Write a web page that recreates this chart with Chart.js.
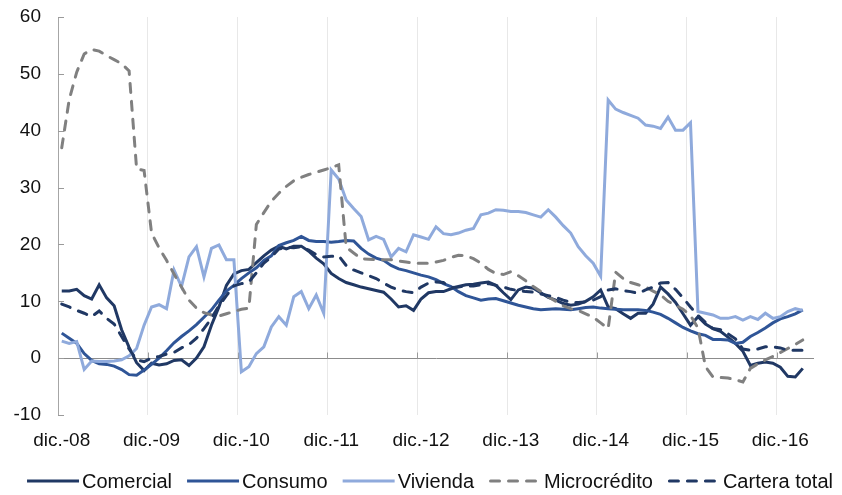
<!DOCTYPE html>
<html>
<head>
<meta charset="utf-8">
<script src="https://cdn.jsdelivr.net/npm/chart.js@4.4.1/dist/chart.umd.min.js"></script>
<style>html,body{margin:0;padding:0;background:#fff}</style>
</head>
<body>
<canvas id="chart" width="842" height="495"></canvas>
<script>
// monthly categories: dic.-08 ... abr.-17 (last slot empty, as in the source)
const MONTHS=['ene','feb','mar','abr','may','jun','jul','ago','sep','oct','nov','dic'];
const FIRST_MONTH=11, FIRST_YEAR=8, N_CATS=101;
const Y_TICKS=[-10,0,10,20,30,40,50,60];
const SERIES_NAMES=['Comercial','Consumo','Vivienda','Microcrédito','Cartera total'];

const comercial=[11.8,11.8,12.1,11.0,10.4,12.9,10.6,9.2,5.0,1.9,
 -0.8,-2.2,-0.9,-1.2,-1.0,-0.4,-0.3,-1.3,0.0,2.0,
 5.8,9.0,12.8,14.8,15.4,15.6,16.8,18.0,19.0,19.7,
 19.2,19.7,19.7,18.8,17.6,16.6,14.9,14.0,13.3,12.9,
 12.5,12.2,11.9,11.6,10.4,9.0,9.2,8.4,10.4,11.5,
 11.7,11.7,12.2,12.6,12.9,13.0,13.2,13.4,12.8,11.5,
 10.3,12.0,12.5,12.3,11.5,10.7,10.2,9.6,9.3,9.5,
 10.0,10.8,12.0,9.0,8.7,7.8,7.0,7.9,7.9,9.5,
 12.5,11.3,9.8,7.8,5.8,7.3,6.0,5.2,4.7,3.7,
 2.6,1.2,-1.3,-0.9,-0.7,-0.9,-1.6,-3.2,-3.3,-1.8];
const consumo=[4.4,3.5,2.6,0.8,-0.4,-1.0,-1.1,-1.4,-2.0,-2.9,
 -3.0,-2.1,-1.1,0.0,1.3,2.7,3.8,4.8,5.9,7.2,
 8.5,10.2,11.8,12.8,14.0,15.0,15.9,17.2,18.0,19.8,
 20.3,20.7,21.4,20.7,20.5,20.5,20.4,20.5,20.7,20.6,
 19.3,18.3,17.6,17.2,16.3,15.7,15.4,15.0,14.6,14.3,
 13.8,13.1,12.6,11.7,11.0,10.6,10.2,10.4,10.5,10.1,
 9.7,9.3,9.0,8.7,8.5,8.6,8.7,8.6,8.5,8.7,
 8.9,9.0,8.8,8.7,8.6,8.5,8.5,8.5,8.4,8.1,
 7.7,7.0,6.2,5.4,4.8,4.3,4.0,3.3,3.3,3.2,
 2.6,2.8,3.8,4.5,5.3,6.2,6.9,7.3,7.8,8.5];
const vivienda=[3.0,2.6,2.9,-2.0,-0.5,-0.6,-0.6,-0.5,-0.3,0.4,
 1.7,5.8,9.0,9.4,8.7,15.5,12.6,17.8,19.6,14.3,
 19.3,19.9,17.3,17.3,-2.4,-1.5,0.8,2.0,5.5,7.3,
 5.8,10.8,11.7,8.7,11.1,7.9,33.1,31.5,27.8,26.3,
 24.9,20.8,21.4,20.9,17.8,19.3,18.7,21.7,21.3,20.9,
 23.1,21.9,21.7,22.0,22.5,22.8,25.2,25.5,26.1,26.0,
 25.8,25.8,25.6,25.2,24.8,26.1,24.8,23.3,22.0,19.6,
 18.0,16.7,14.4,45.4,43.8,43.2,42.7,42.2,41.0,40.8,
 40.4,42.4,40.1,40.1,41.4,8.2,7.9,7.6,7.0,7.0,
 7.3,6.7,7.3,6.8,7.9,7.0,7.3,8.2,8.7,8.4];
const microcredito=[37,45.5,50.3,53.5,54.3,54.0,53.2,52.5,51.8,50.5,
 33.3,33.0,22.0,19.4,17.2,14.8,12.5,10.2,8.8,8.0,
 7.6,7.4,7.8,8.2,8.6,8.8,23.5,25.6,27.6,29.0,
 30.2,31.2,31.8,32.3,32.7,33.1,33.5,34.0,19.5,18.5,
 17.5,17.4,17.3,17.3,17.3,17.1,16.9,16.7,16.7,16.7,
 16.9,17.2,17.7,18.1,18.0,17.5,16.7,15.6,14.9,14.7,
 15.2,14.5,13.6,12.6,11.7,10.8,10.0,9.2,8.7,8.4,
 7.8,7.2,6.2,5.2,15.1,14.0,13.3,12.9,12.5,11.8,
 11.1,10.0,9.3,8.6,7.5,5.3,-1.5,-3.3,-3.4,-3.5,
 -3.8,-4.2,-1.8,-1.0,-0.3,0.3,1.0,1.7,2.4,3.2];
const carteraTotal=[9.5,9.0,8.4,7.9,7.3,8.3,7.0,6.0,3.8,1.6,
 -0.3,-0.6,0.0,0.3,0.7,1.0,1.8,2.4,3.5,5.2,
 7.0,9.2,11.0,12.7,13.1,13.4,15.0,16.7,17.8,19.2,
 19.5,19.4,19.6,19.0,18.2,17.8,17.9,18.0,16.3,15.5,
 15.0,14.5,14.0,13.2,12.5,12.0,11.7,11.5,12.5,13.2,
 13.4,13.3,12.4,12.5,12.7,12.7,12.9,13.1,12.8,12.5,
 12.1,11.9,11.7,11.6,11.3,11.0,10.7,10.2,9.8,9.8,
 9.9,10.2,10.8,12.0,12.2,11.9,11.7,11.4,12.0,12.5,
 13.2,13.3,12.1,10.6,9.0,7.5,6.3,5.2,5.0,4.3,
 3.4,1.6,1.4,1.6,2.0,2.0,1.8,1.4,1.4,1.4];

const labels=[];
for(let k=0;k<N_CATS;k++){const m=(FIRST_MONTH+k)%12, y=FIRST_YEAR+Math.floor((FIRST_MONTH+k)/12);labels.push(MONTHS[m]+'.-'+String(y).padStart(2,'0'));}
const isDic=i=>labels[i]&&labels[i].startsWith('dic');

const FONT='"Liberation Sans", Arial, sans-serif';
const colors=['#203864','#2F5597','#8FAADC','#808080','#203864'];
const dashes=[[],[],[],[9,9],[9,9]];
const values=[comercial,consumo,vivienda,microcredito,carteraTotal];

// small inside tick marks on the value axis and on the zero line
const tickMarks={id:'tickMarks',beforeDatasetsDraw(chart){
  const {ctx,chartArea:a,scales:{x,y}}=chart;
  ctx.save();ctx.strokeStyle='#9A9A9A';ctx.lineWidth=1;ctx.beginPath();
  Y_TICKS.forEach(v=>{const py=Math.round(y.getPixelForValue(v))+0.5;ctx.moveTo(a.left,py);ctx.lineTo(a.left+6,py);});
  const y0=Math.round(y.getPixelForValue(0))+0.5;
  labels.forEach((l,i)=>{if(i>0&&isDic(i)){const px=Math.round(x.getPixelForValue(i-0.5))+0.5;ctx.moveTo(px,y0);ctx.lineTo(px,y0-6);}});
  ctx.stroke();ctx.restore();
}};

// legend row drawn by hand: long line sample, tight gap, label
const legendRow={id:'legendRow',afterDraw(chart){
  const ctx=chart.ctx, LINE=52, GAP=3, SEP=15, Y=481, CENTER=430;
  ctx.save();ctx.font='20px '+FONT;ctx.textBaseline='middle';
  const ds=chart.data.datasets;
  const w=ds.map(d=>ctx.measureText(d.label).width);
  let x=CENTER-(w.reduce((s,v)=>s+v+LINE+GAP,0)+SEP*(ds.length-1))/2;
  ds.forEach((d,i)=>{
    ctx.beginPath();ctx.strokeStyle=d.borderColor;ctx.lineWidth=3;
    ctx.setLineDash(d.borderDash);ctx.lineCap=d.borderCapStyle;
    ctx.moveTo(x+(d.borderDash.length?1.5:0),Y);ctx.lineTo(x+LINE,Y);ctx.stroke();
    ctx.setLineDash([]);ctx.fillStyle='#111';ctx.fillText(d.label,x+LINE+GAP,Y+1);
    x+=LINE+GAP+w[i]+SEP;
  });
  ctx.restore();
}};

new Chart(document.getElementById('chart'),{
  type:'line',
  data:{labels,datasets:SERIES_NAMES.map((n,i)=>({
    label:n,data:values[i],borderColor:colors[i],backgroundColor:colors[i],
    borderWidth:3,borderDash:dashes[i],borderCapStyle:dashes[i].length?'round':'butt',
    pointRadius:0,tension:0,fill:false,order:SERIES_NAMES.length-i}))},
  options:{
    responsive:false,animation:false,events:[],
    layout:{padding:{top:17,right:28,left:0,bottom:42}},
    scales:{
      x:{type:'category',offset:true,
        grid:{offset:true,drawTicks:false,color:c=>isDic(c.index)?'#E8E8E8':'rgba(0,0,0,0)'},
        border:{display:false},
        ticks:{autoSkip:false,maxRotation:0,padding:14,color:'#111',font:{family:FONT,size:19},
          callback:(v,i)=>isDic(i)?labels[i]:''},
        afterFit:s=>{s.height=38;s.paddingLeft=0;s.paddingRight=0;}},
      y:{min:-10,max:60,
        grid:{drawTicks:false,color:c=>c.tick&&c.tick.value===0?'#8C8C8C':'rgba(0,0,0,0)'},
        border:{display:true,color:'#A6A6A6',width:1},
        ticks:{stepSize:10,padding:17,color:'#111',font:{family:FONT,size:19}},
        afterFit:s=>{s.width=58;s.paddingTop=0;s.paddingBottom=0;}}
    },
    plugins:{legend:{display:false},tooltip:{enabled:false}}
  },
  plugins:[tickMarks,legendRow]
});
</script>
</body>
</html>
